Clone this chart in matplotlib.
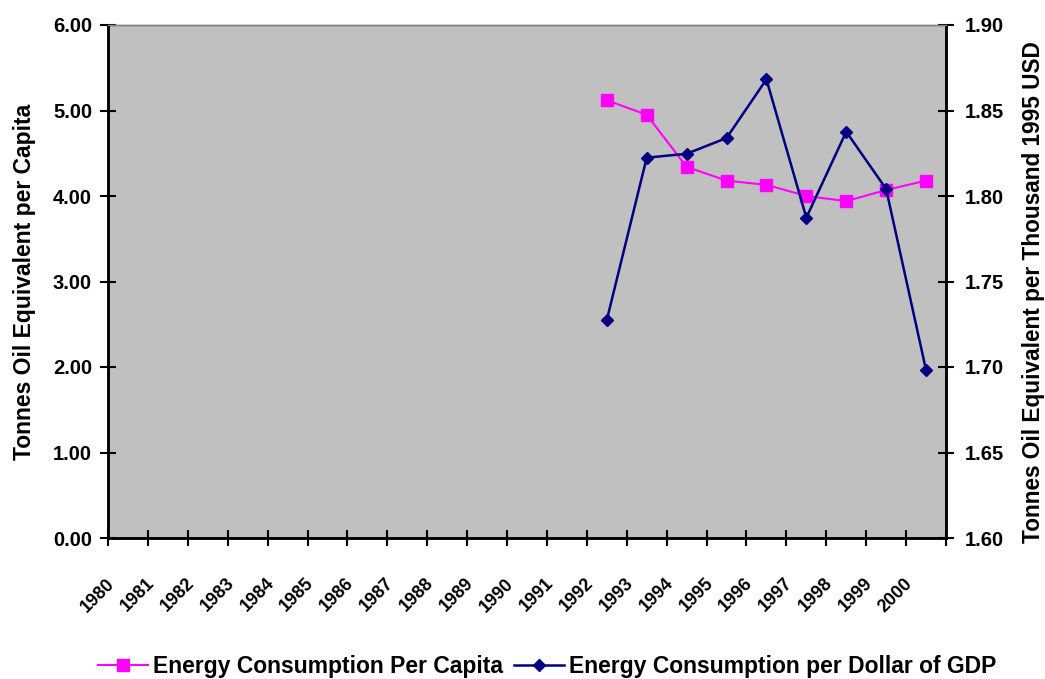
import numpy as np
from matplotlib import pyplot as plt
from matplotlib import transforms

plt.rcParams['font.family'] = ['Liberation Sans', 'DejaVu Sans']
plt.rcParams['font.weight'] = 'bold'

years = [str(y) for y in range(1980, 2001)]
per_capita_years = [1992, 1993, 1994, 1995, 1996, 1997, 1998, 1999, 2000]
per_capita = [5.12, 4.95, 4.34, 4.18, 4.13, 4.00, 3.94, 4.07, 4.18]
per_gdp_years = [1992, 1993, 1994, 1995, 1996, 1997, 1998, 1999, 2000]
per_gdp = [1.7275, 1.8224, 1.8247, 1.8339, 1.8682, 1.7873, 1.8376, 1.8041, 1.6982]

fig = plt.figure(figsize=(10.45, 6.79), dpi=100)
ax = fig.add_axes([108/1045, 1-538/679, (946-108)/1045, (538-25)/679])
ax2 = ax.twinx()
ax.set_facecolor('#c0c0c0')
ax.set_zorder(ax2.get_zorder() - 1)
ax2.patch.set_visible(False)

xc = np.arange(len(years)) + 0.5
x1 = [years.index(str(y)) + 0.5 for y in per_capita_years]
x2 = [years.index(str(y)) + 0.5 for y in per_gdp_years]

ax.plot(x1, per_capita, color='#ff00ff', lw=1.5, marker='s', ms=8,
        mfc='#ff00ff', mec='#ff00ff', label='Energy Consumption Per Capita', zorder=3)
ax2.plot(x2, per_gdp, color='#000080', lw=1.8, marker='D', ms=6.5,
         mfc='#000080', mec='#000080', label='Energy Consumption per Dollar of GDP')

ax.set_xlim(0, len(years))
ax.set_ylim(0, 6)
ax2.set_ylim(1.6, 1.9)
ax.set_yticks(np.arange(0, 6.01, 1))
ax.set_yticklabels(['%.2f' % v for v in np.arange(0, 6.01, 1)], fontsize=14.5, fontweight='bold')
ax2.set_yticks(np.arange(1.6, 1.901, 0.05))
ax2.set_yticklabels(['%.2f' % v for v in np.arange(1.6, 1.901, 0.05)], fontsize=14.5, fontweight='bold')

# category boundaries get tick marks, year labels sit under category centres
ax.set_xticks(np.arange(0, len(years) + 1))
ax.set_xticklabels([])
off = transforms.ScaledTranslation(-16/100, -43/100, fig.dpi_scale_trans)
for x, yr in zip(xc, years):
    ax.text(x, 0, yr, transform=ax.get_xaxis_transform() + off, rotation=45,
            ha='right', va='center', rotation_mode='anchor', fontsize=13, fontweight='bold')
ax.tick_params(axis='x', which='major', length=11, width=1.5, direction='inout')
ax.tick_params(axis='y', length=11, width=1.5, direction='inout', pad=6)
ax2.tick_params(axis='y', length=11, width=1.5, direction='inout', pad=8)

for a in (ax, ax2):
    for s in a.spines.values():
        s.set_linewidth(1.8)
    a.spines['top'].set_color('#808080')
    a.spines['top'].set_linewidth(1.0)

ax.set_ylabel('Tonnes Oil Equivalent per Capita', fontsize=16.5, fontweight='bold')
ax.yaxis.set_label_coords(-0.086, 0.5)
ax2.set_ylabel('Tonnes Oil Equivalent per Thousand 1995 USD', fontsize=16.3, fontweight='bold')
ax2.yaxis.set_label_coords(1.0907, 0.48)

h1, lab1 = ax.get_legend_handles_labels()
h2, lab2 = ax2.get_legend_handles_labels()
fig.legend(h1 + h2, lab1 + lab2, loc='center', bbox_to_anchor=(547/1045, 1-667/679), ncol=2,
           frameon=False, fontsize=16.5, handlelength=2.2, columnspacing=0.5, handletextpad=0.2)

fig.savefig('out.png', dpi=100)
